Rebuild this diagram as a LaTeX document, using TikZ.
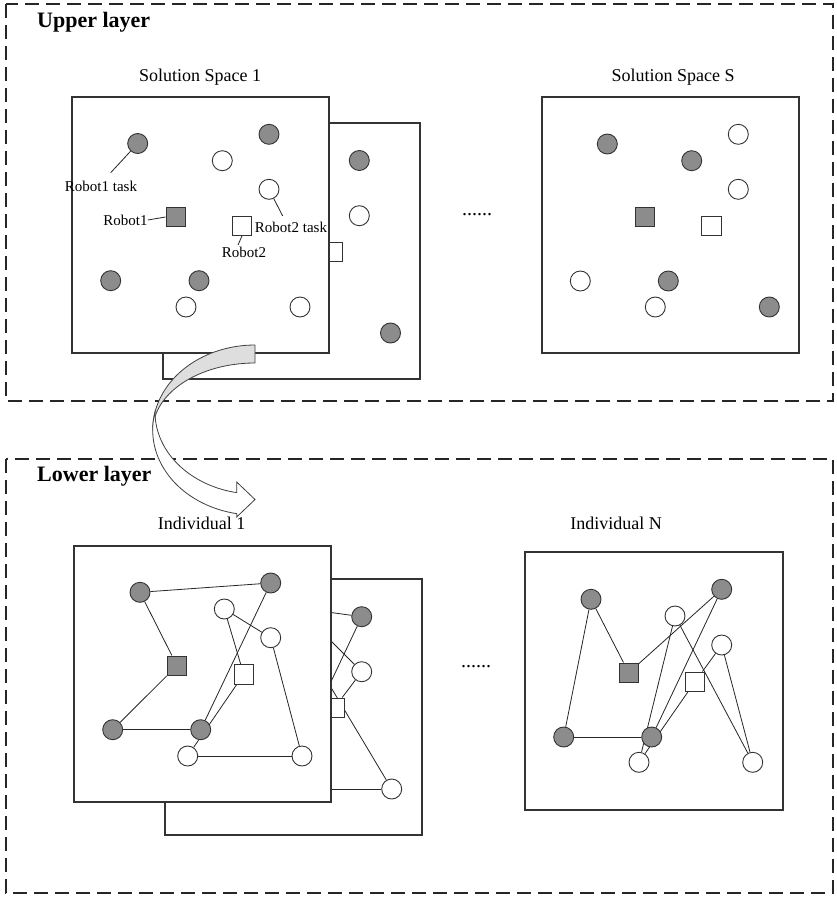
\documentclass[tikz,border=0pt]{standalone}
\usepackage{fontspec}
\setmainfont{Liberation Serif}
\pgfdeclarelayer{pa}
\pgfdeclarelayer{ea}
\pgfdeclarelayer{na}
\pgfdeclarelayer{pb}
\pgfdeclarelayer{eb}
\pgfdeclarelayer{topl}
\pgfsetlayers{pa,ea,na,pb,eb,main,topl}
\begin{document}
\begin{tikzpicture}[x=1pt,y=-1pt,
  panel/.style={draw=black!80, line width=1.1pt, fill=white},
  gc/.style={circle, draw=black!80, line width=0.9pt, fill=black!45, minimum size=20pt, inner sep=0pt},
  wc/.style={gc, fill=white},
  gs/.style={rectangle, draw=black!80, line width=0.9pt, fill=black!45, minimum size=19.5pt, inner sep=0pt},
  ws/.style={gs, fill=white},
  edge/.style={draw=black!85, line width=0.8pt},
  lbl/.style={font=\fontsize{15}{15}\selectfont, inner sep=0pt},
  ttl/.style={font=\fontsize{18}{18}\selectfont, inner sep=0pt, anchor=base},
  layer/.style={font=\bfseries\fontsize{22}{22}\selectfont, inner sep=0pt, anchor=base west},
  dbox/.style={draw=black!85, line width=2.2pt, dash pattern=on 14pt off 7pt},
  arr/.style={draw=black!75, line width=0.8pt}]
\useasboundingbox (0,0) rectangle (836,897);

% ---------- layer boxes and back panels ----------
\begin{pgfonlayer}{pa}
\draw[dbox] (6,4) rectangle (833,401);
\draw[dbox] (6,459) rectangle (833,893);
\draw[panel] (163,123) rectangle (420,379);
\draw[panel] (165,579) rectangle (422,835);
\end{pgfonlayer}

% ---------- back panel contents ----------
\begin{pgfonlayer}{na}
\node[gc] (ub1) at (359.3,160.5) {};
\node[wc] (ub2) at (359.3,215.7) {};
\node[ws] (ub3) at (333,252) {};
\node[gc] (ub4) at (390.5,333) {};
\node[gc] (lb1) at (361.7,616.7) {};
\node[wc] (lb2) at (361.7,671.7) {};
\node[ws] (lb3) at (334.5,707.7) {};
\node[wc] (lb4) at (391.7,789) {};
\end{pgfonlayer}
\coordinate (c1) at (320,611);
\coordinate (c2) at (320,705);
\coordinate (c3) at (320,630);
\coordinate (c4) at (320,669);
\coordinate (c5) at (320,789);
\begin{pgfonlayer}{ea}
\draw[edge] (c1) -- (lb1);
\draw[edge] (lb1) -- (c2);
\draw[edge] (c3) -- (lb2);
\draw[edge] (lb2) -- (lb3);
\draw[edge] (c4) -- (lb4);
\draw[edge] (c5) -- (lb4);
\end{pgfonlayer}

% ---------- front panels ----------
\begin{pgfonlayer}{pb}
\draw[panel] (72,97) rectangle (329,353);
\draw[panel] (542,97) rectangle (799,353);
\draw[panel] (74,546) rectangle (331,802);
\draw[panel] (525,552) rectangle (783,810);
\end{pgfonlayer}

% ---------- upper left front ----------
\node[gc] (uf1) at (137.7,143.5) {};
\node[gc] (uf2) at (269,134.3) {};
\node[wc] (uf3) at (222.3,160.7) {};
\node[wc] (uf4) at (269,189.3) {};
\node[gs] (uf5) at (175.7,217) {};
\node[ws] (uf6) at (242,225.7) {};
\node[gc] (uf7) at (110.7,280.7) {};
\node[gc] (uf8) at (199,280.7) {};
\node[wc] (uf9) at (186,307) {};
\node[wc] (uf10) at (300,307) {};

\node[lbl] (l1) at (101,186) {Robot1 task};
\node[lbl] (l2) at (125.5,220) {Robot1};
\node[lbl] (l3) at (291,227.7) {Robot2 task};
\node[lbl] (l4) at (244,252) {Robot2};
\coordinate (l1t) at (110.7,172.7);
\coordinate (l3t) at (282.7,216);
\coordinate (l4t) at (238,245);
\draw[edge] (uf1) -- (l1t);
\draw[edge] (l2.east) -- (uf5.west);
\draw[edge] (uf4) -- (l3t);
\draw[edge] (uf6.south) -- (l4t);

% ---------- upper right ----------
\node[gc] (ur1) at (607.3,144) {};
\node[gc] (ur2) at (691.7,160.7) {};
\node[wc] (ur3) at (738.3,134.3) {};
\node[wc] (ur4) at (738.3,189.3) {};
\node[gs] (ur5) at (644.7,217) {};
\node[ws] (ur6) at (711.3,225.7) {};
\node[wc] (ur7) at (580.3,281) {};
\node[gc] (ur8) at (668.3,281) {};
\node[wc] (ur9) at (655.3,307) {};
\node[gc] (ur10) at (769.3,307) {};

% ---------- lower left front ----------
\node[gc] (lf1) at (140,592.3) {};
\node[gc] (lf2) at (270.7,583) {};
\node[wc] (lf3) at (224.3,609) {};
\node[wc] (lf4) at (270.7,637.7) {};
\node[gs] (lf5) at (177,665.7) {};
\node[ws] (lf6) at (243.7,674.3) {};
\node[gc] (lf7) at (112.7,729.7) {};
\node[gc] (lf8) at (200.7,729.7) {};
\node[wc] (lf9) at (187.7,756) {};
\node[wc] (lf10) at (302,756) {};

% ---------- lower right ----------
\node[gc] (lr1) at (591,599.3) {};
\node[gc] (lr2) at (721.7,589.3) {};
\node[wc] (lr3) at (675,616) {};
\node[wc] (lr4) at (721.7,645) {};
\node[gs] (lr5) at (628.7,672.7) {};
\node[ws] (lr6) at (695,681.7) {};
\node[gc] (lr7) at (563.7,737) {};
\node[gc] (lr8) at (651.7,737) {};
\node[wc] (lr9) at (639,762.3) {};
\node[wc] (lr10) at (752.7,762.3) {};

\begin{pgfonlayer}{eb}
\draw[edge] (lf1) -- (lf2);
\draw[edge] (lf1) -- (lf5);
\draw[edge] (lf5) -- (lf7);
\draw[edge] (lf7) -- (lf8);
\draw[edge] (lf2) -- (lf8);
\draw[edge] (lf3) -- (lf4);
\draw[edge] (lf3) -- (lf6);
\draw[edge] (lf6) -- (lf9);
\draw[edge] (lf9) -- (lf10);
\draw[edge] (lf4) -- (lf10);
\draw[edge] (lr5) -- (lr1);
\draw[edge] (lr1) -- (lr7);
\draw[edge] (lr7) -- (lr8);
\draw[edge] (lr8) -- (lr2);
\draw[edge] (lr2) -- (lr5);
\draw[edge] (lr6) -- (lr4);
\draw[edge] (lr4) -- (lr10);
\draw[edge] (lr10) -- (lr3);
\draw[edge] (lr3) -- (lr9);
\draw[edge] (lr9) -- (lr6);
\end{pgfonlayer}

% ---------- titles ----------
\node[layer] (tu) at (37,27.3) {Upper layer};
\node[layer] (tl) at (37,481.5) {Lower layer};
\node[ttl] (s1) at (200,81.7) {Solution Space 1};
\node[ttl] (sS) at (673,81.7) {Solution Space S};
\node[ttl] (i1) at (201.5,529) {Individual 1};
\node[ttl] (iN) at (616,529) {Individual N};
\node[font=\fontsize{20}{20}\selectfont, inner sep=0pt] (d1) at (477,215) {......};
\node[font=\fontsize{20}{20}\selectfont, inner sep=0pt] (d2) at (476,667) {......};

% ---------- curved arrow ----------
\begin{pgfonlayer}{topl}
\draw[arr, fill=black!13]
  plot[variable=\t, domain=270:180, samples=50] ({255+102.3*cos(\t)},{430+85*sin(\t)})
  -- plot[variable=\t, domain=180:270, samples=50] ({255+102.3*cos(\t)},{431+68*sin(\t)})
  -- cycle;
\draw[arr, fill=white]
  plot[variable=\t, domain=190:100.3, samples=60] ({255+102.3*cos(\t)},{430+85*sin(\t)})
  -- (236.7,517) -- (255,499.5) -- (236.7,482) -- (236.7,492.6)
  -- plot[variable=\t, domain=100.5:180, samples=60] ({255+100*cos(\t)},{412+82*sin(\t)})
  -- cycle;
\end{pgfonlayer}
\end{tikzpicture}
\end{document}
